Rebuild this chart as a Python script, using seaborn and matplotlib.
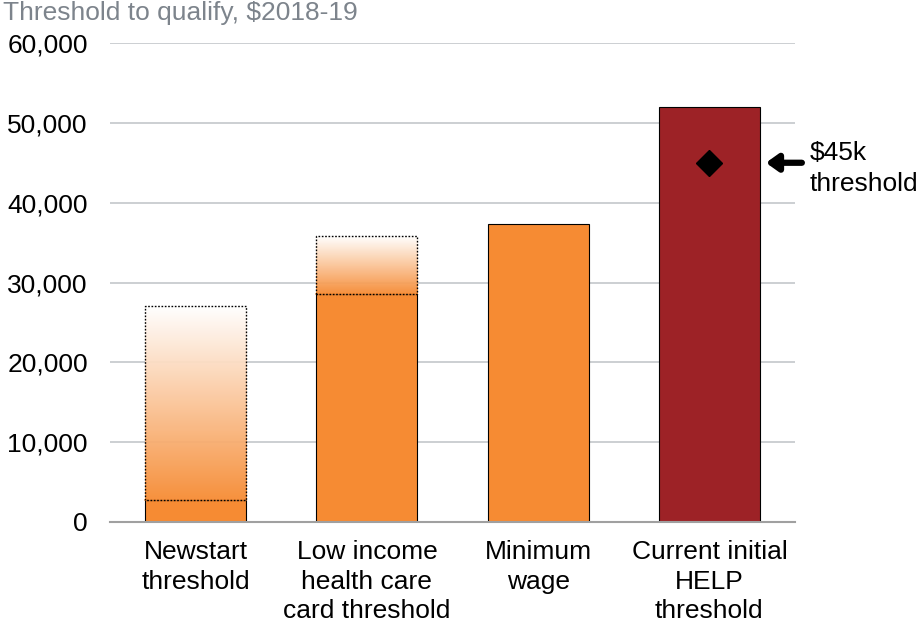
import numpy as np
import pandas as pd
import matplotlib
matplotlib.use("Agg")
import matplotlib.pyplot as plt
from matplotlib.colors import to_rgb
import seaborn as sns

categories = ["Newstart\nthreshold", "Low income\nhealth care\ncard threshold",
              "Minimum\nwage", "Current initial\nHELP\nthreshold"]
solid_values = [2800, 28600, 37300, 51957]
range_top = [27000, 35800, None, None]
diamond_value = 45000
yticks = [0, 10000, 20000, 30000, 40000, 50000, 60000]

ORANGE = "#f68b33"
RED = "#9d2226"
bar_colors = [ORANGE, ORANGE, ORANGE, RED]

sns.set_style("white")
plt.rcParams["font.family"] = ["Liberation Sans", "DejaVu Sans"]
plt.rcParams["text.color"] = "black"
plt.rcParams["xtick.color"] = "black"
plt.rcParams["ytick.color"] = "black"

fig = plt.figure(figsize=(9.19, 6.28), dpi=100)
ax = fig.add_axes([0.1197, 0.1688, 0.7454, 0.7627])

df = pd.DataFrame({"cat": categories, "val": solid_values})
width = 0.59
sns.barplot(data=df, x="cat", y="val", hue="cat", palette=bar_colors,
            saturation=1, width=width, legend=False, ax=ax,
            edgecolor="black", linewidth=0.8, zorder=3)

# gradient ranges
orange_rgb = np.array(to_rgb(ORANGE))
for i, (lo, hi) in enumerate(zip(solid_values, range_top)):
    if hi is None:
        continue
    n = 256
    t = np.linspace(0, 1, n)[:, None]
    col = orange_rgb[None, :] * (1 - t) + np.array([1, 1, 1])[None, :] * t
    img = np.repeat(col[:, None, :], 2, axis=1)
    ax.imshow(img, extent=[i - width / 2, i + width / 2, lo, hi],
              origin="lower", aspect="auto", zorder=2.5, alpha=0.95)
    # mask the solid top edge so the boundary reads as dotted
    ax.plot([i - width / 2, i + width / 2], [lo, lo], color=ORANGE,
            linewidth=1.2, zorder=3.5)
    ax.plot([i - width / 2, i - width / 2, i + width / 2, i + width / 2, i - width / 2],
            [lo, hi, hi, lo, lo], color="black", linestyle=(0, (1.2, 1.2)),
            linewidth=1.0, zorder=4)

# diamond
ax.plot([3], [diamond_value], marker="D", color="black", markersize=13, zorder=5)

ax.annotate("", xy=(3.33, diamond_value), xytext=(3.54, diamond_value),
            arrowprops=dict(arrowstyle="-|>,head_length=0.7,head_width=0.5",
                            color="black", lw=4.5, shrinkA=0, shrinkB=0),
            annotation_clip=False)
ax.text(3.585, diamond_value - 700, "\\$45k\nthreshold", fontsize=19, va="center",
        ha="left", clip_on=False, linespacing=1.35)

ax.set_xlim(-0.5, 3.5)
ax.set_ylim(0, 60000)
ax.set_yticks(yticks)
ax.set_yticklabels([f"{v:,}" for v in yticks])
ax.yaxis.grid(True, color="#c3c7cb", linewidth=1.2, zorder=0)
ax.set_axisbelow(True)
for s in ["top", "right", "left"]:
    ax.spines[s].set_visible(False)
ax.spines["bottom"].set_color("#a0a0a0")
ax.spines["bottom"].set_linewidth(1.5)
ax.spines["bottom"].set_zorder(6)
ax.tick_params(axis="y", length=0, pad=16, labelsize=19)
ax.tick_params(axis="x", length=0, pad=13, labelsize=19)
for lbl in ax.get_xticklabels():
    lbl.set_linespacing(1.3)
ax.set_xlabel("")
ax.set_ylabel("")

fig.text(0.003, 0.998, "Threshold to qualify, \\$2018-19", fontsize=19,
         color="#7d848c", ha="left", va="top")

fig.savefig("out.png", dpi=100)
